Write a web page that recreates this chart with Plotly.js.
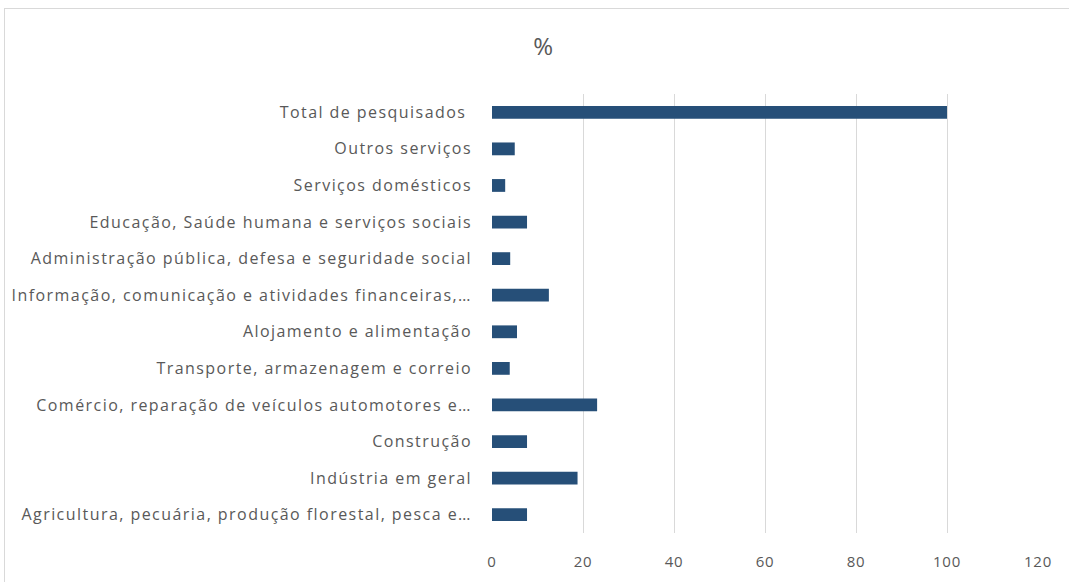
<!DOCTYPE html>
<html>
<head>
<meta charset="utf-8">
<script src="https://cdn.plot.ly/plotly-3.0.1.min.js"></script>
<style>
  html, body { margin: 0; padding: 0; background: #fff; }
  #chart { width: 1069px; height: 582px; }
  #frame { position: absolute; left: 4px; top: 8px; width: 1070px; height: 580px; border: 1px solid #d9d9d9; pointer-events: none; }
  #chart .ytick text { letter-spacing: 1.45px; }
  #chart .xtick text { letter-spacing: 0.8px; }
</style>
</head>
<body>
<div id="chart"></div>
<div id="frame"></div>
<script>
const categories = [
  "Total de pesquisados ",
  "Outros serviços",
  "Serviços domésticos",
  "Educação, Saúde humana e serviços sociais",
  "Administração pública, defesa e seguridade social",
  "Informação, comunicação e atividades financeiras,…",
  "Alojamento e alimentação",
  "Transporte, armazenagem e correio",
  "Comércio, reparação de veículos automotores e…",
  "Construção",
  "Indústria em geral",
  "Agricultura, pecuária, produção florestal, pesca e…"
];
const values = [100, 5.0, 2.9, 7.7, 4.0, 12.5, 5.5, 3.9, 23.1, 7.7, 18.8, 7.7];
const xTicks = [0, 20, 40, 60, 80, 100, 120];

const trace = {
  type: 'bar',
  orientation: 'h',
  x: values,
  y: categories,
  marker: { color: '#264f78' },
  hoverinfo: 'x+y'
};

const layout = {
  width: 1069,
  height: 582,
  paper_bgcolor: '#ffffff',
  plot_bgcolor: '#ffffff',
  margin: { l: 492, r: 31, t: 94, b: 49 },
  bargap: 0.65,
  showlegend: false,
  title: {
    text: '%',
    font: { family: 'Open Sans, sans-serif', size: 24, color: '#595959' },
    x: 0.508,
    xanchor: 'center',
    y: 0.92,
    yanchor: 'middle'
  },
  font: { family: 'Open Sans, sans-serif', color: '#595959' },
  xaxis: {
    range: [0, 120],
    tickvals: xTicks,
    ticktext: xTicks.map(String),
    showgrid: true,
    gridcolor: '#d9d9d9',
    gridwidth: 1,
    zeroline: false,
    showline: false,
    ticks: '',
    ticklabelstandoff: 18,
    tickfont: { family: 'Open Sans, sans-serif', size: 15, color: '#595959' },
    fixedrange: true
  },
  yaxis: {
    type: 'category',
    autorange: 'reversed',
    showgrid: false,
    zeroline: false,
    showline: false,
    ticks: '',
    ticklabelstandoff: 19,
    tickfont: { family: 'Open Sans, sans-serif', size: 16, color: '#595959' },
    fixedrange: true
  }
};

Plotly.newPlot('chart', [trace], layout, { displayModeBar: false, staticPlot: true });
</script>
</body>
</html>
